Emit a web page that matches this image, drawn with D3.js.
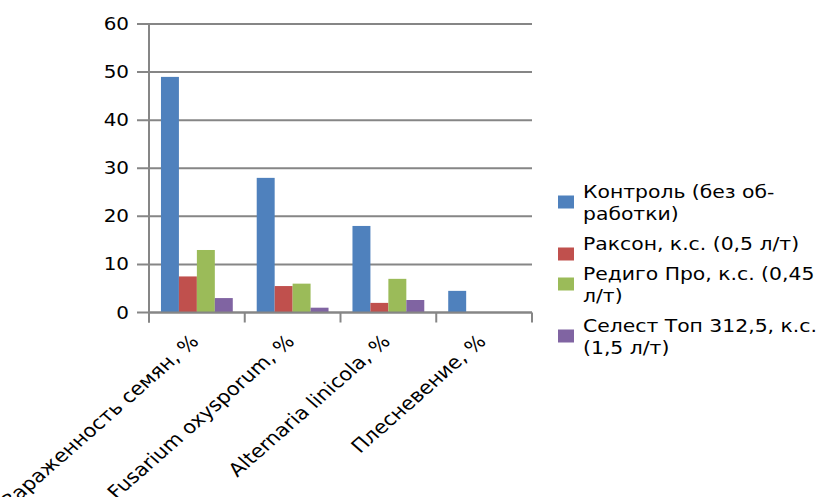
<!DOCTYPE html>
<html>
<head>
<meta charset="utf-8">
<script src="https://cdn.jsdelivr.net/npm/d3@7/dist/d3.min.js"></script>
<style>
  html, body { margin: 0; padding: 0; background: #fff; }
  svg { display: block; }
  text { font-family: "DejaVu Sans", Verdana, sans-serif; fill: #000; }
</style>
</head>
<body>
<svg id="chart" width="818" height="497"></svg>
<script>
// Categories along the x axis
const categories = [
  "Зараженность семян, %",
  "Fusarium oxysporum, %",
  "Alternaria linicola, %",
  "Плесневение, %"
];

// Treatments (series) — legend labels split into their wrapped lines
const seriesNames = [
  ["Контроль (без об-", "работки)"],
  ["Раксон, к.с. (0,5 л/т)"],
  ["Редиго Про, к.с. (0,45", "л/т)"],
  ["Селест Топ 312,5, к.с.", "(1,5 л/т)"]
];

// Values per series, one entry per category
const control = [49, 28, 18, 4.5];
const raxon   = [7.5, 5.5, 2, 0];
const redigo  = [13, 6, 7, 0];
const celest  = [3, 1, 2.6, 0];

const yTicks = [0, 10, 20, 30, 40, 50, 60];

const colors = ["#4F81BD", "#C0504D", "#9BBB59", "#8064A2"];
const seriesValues = [control, raxon, redigo, celest];

const svg = d3.select("#chart");

const plot = { left: 149, right: 532, top: 24, bottom: 312.5 };
const gridColor = "#868686";
const stretch = 1.14;        // glyphs are drawn slightly wide
const legendStretch = 1.1;

const y = d3.scaleLinear().domain([0, 60]).range([plot.bottom, plot.top]);
const x = d3.scaleBand().domain(categories).range([plot.left, plot.right]).padding(0);
const gapHalf = x.bandwidth() * 0.125;
const xs = d3.scaleBand().domain(d3.range(seriesValues.length))
  .range([gapHalf, x.bandwidth() - gapHalf]).padding(0);

// Horizontal gridlines with outward tick stubs
svg.append("g").selectAll("line").data(yTicks).join("line")
  .attr("x1", plot.left - 12).attr("x2", plot.right)
  .attr("y1", d => y(d)).attr("y2", d => y(d))
  .attr("stroke", gridColor).attr("stroke-width", 2);

// Y tick labels
svg.append("g").selectAll("text").data(yTicks).join("text")
  .attr("transform", d => `translate(${plot.left - 20},${y(d)}) scale(${stretch},1)`)
  .attr("text-anchor", "end").attr("dominant-baseline", "central")
  .attr("font-size", 17.5)
  .text(d => d);

// Bars
const rows = categories.map((c, i) => ({ c, vals: seriesValues.map(s => s[i]) }));
const groups = svg.append("g").selectAll("g").data(rows).join("g")
  .attr("transform", d => `translate(${x(d.c)},0)`);
groups.selectAll("rect").data(d => d.vals.map((v, k) => ({ v, k }))).join("rect")
  .attr("x", d => xs(d.k)).attr("width", xs.bandwidth())
  .attr("y", d => y(d.v)).attr("height", d => y(0) - y(d.v))
  .attr("fill", d => colors[d.k]);

// Vertical axis line
svg.append("line")
  .attr("x1", plot.left).attr("x2", plot.left)
  .attr("y1", plot.top).attr("y2", plot.bottom + 10)
  .attr("stroke", gridColor).attr("stroke-width", 2);

// Category boundary ticks on the x axis
const bounds = categories.map(c => x(c)).concat([plot.right]);
svg.append("g").selectAll("line").data(bounds).join("line")
  .attr("x1", d => d).attr("x2", d => d)
  .attr("y1", plot.bottom).attr("y2", plot.bottom + 10)
  .attr("stroke", gridColor).attr("stroke-width", 2);
svg.append("line")
  .attr("x1", plot.left).attr("x2", plot.right)
  .attr("y1", plot.bottom).attr("y2", plot.bottom)
  .attr("stroke", gridColor).attr("stroke-width", 2);

// Rotated category labels
svg.append("g").selectAll("text").data(categories).join("text")
  .attr("text-anchor", "end")
  .attr("font-size", 18.5)
  .attr("transform", d => `translate(${x(d) + x.bandwidth() / 2 + 3},${plot.bottom + 30}) scale(${stretch},1) rotate(-45)`)
  .text(d => d);

// Legend
const legend = { x: 558, textX: 583, firstBase: 198, line: 22, gap: 8 };
let base = legend.firstBase;
const legendG = svg.append("g");
seriesNames.forEach((lines, i) => {
  legendG.append("rect")
    .attr("x", legend.x).attr("y", base + 4 - 6.5)
    .attr("width", 16).attr("height", 13)
    .attr("fill", colors[i]);
  lines.forEach((ln, j) => {
    legendG.append("text")
      .attr("transform", `translate(${legend.textX},${base + j * legend.line}) scale(${legendStretch},1)`)
      .attr("font-size", 18.5)
      .text(ln);
  });
  base += lines.length * legend.line + legend.gap;
});
</script>
</body>
</html>
